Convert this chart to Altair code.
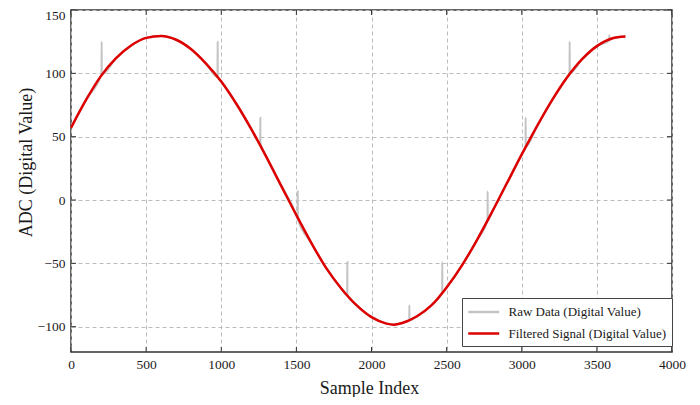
import altair as alt
import pandas as pd

# ---- data ----
filtered_index = [0, 100, 200, 300, 400, 500, 600, 700, 800, 900, 1000, 1100, 1200,
                  1300, 1400, 1500, 1600, 1700, 1800, 1900, 2000, 2100, 2150, 2200,
                  2300, 2400, 2500, 2600, 2700, 2800, 2900, 3000, 3100, 3200, 3300,
                  3400, 3500, 3600, 3690]
filtered_value = [57, 79, 98, 112, 122, 128, 129.4, 126.5, 119, 107.5, 93.5, 76, 56,
                  34, 11, -12, -34, -54, -70, -83, -92.5, -97.6, -98.4, -97.3,
                  -92, -83, -69, -52, -32, -10, 13, 36, 58, 78.5, 96.5,
                  111, 121.5, 127.5, 129]

spike_index = [204, 976, 1260, 1509, 1839, 2252, 2471, 2773, 3026, 3319, 3583]
spike_peak = [125, 125, 65, 7, -49, -83, -49, 7, 65, 125, 130]
spike_base = [99, 97, 45, -15, -75, -95, -73, -16, 42, 100, 126]

x_ticks = [0, 500, 1000, 1500, 2000, 2500, 3000, 3500, 4000]
y_ticks = [-100, -50, 0, 50, 100, 150]

RAW = "Raw Data (Digital Value)"
FILT = "Filtered Signal (Digital Value)"

# ---- tables ----
filt_df = pd.DataFrame({"idx": filtered_index, "val": filtered_value, "series": FILT})

raw_rows = [(i, v) for i, v in zip(filtered_index, filtered_value)]
for i, p, b in zip(spike_index, spike_peak, spike_base):
    raw_rows += [(i - 1, b), (i, p), (i + 1, b)]
raw_rows.sort()
raw_df = pd.DataFrame(raw_rows, columns=["idx", "val"])
raw_df["series"] = RAW

xt_df = pd.DataFrame({"idx": x_ticks})
yt_df = pd.DataFrame({"val": y_ticks})

W, H = 601, 342
FONT = "Liberation Serif"
TXT = "#1a1a1a"

xscale = alt.Scale(domain=[0, 4000], nice=False, zero=False)
yscale = alt.Scale(domain=[-120, 150], nice=False, zero=False)
color = alt.Color(
    "series:N",
    scale=alt.Scale(domain=[RAW, FILT], range=["#c4c4c4", "#dd0000"]),
    legend=alt.Legend(
        title=None, orient="none", legendX=391, legendY=288,
        symbolType="M-1,0H3", symbolSize=240, symbolStrokeWidth=2.5,
        labelFont=FONT, labelFontSize=13, labelColor=TXT, labelOffset=23.5,
        rowPadding=5.5, padding=5, strokeColor="#444", fillColor="white",
        cornerRadius=0,
    ),
)

xaxis = alt.Axis(
    values=x_ticks, title="Sample Index", grid=True, ticks=False, domain=False,
    labelFont=FONT, labelFontSize=13.5, labelColor=TXT, labelPadding=5,
    labelFlush=False,
    titleFont=FONT, titleFontSize=18, titleFontWeight="normal", titleColor=TXT,
    titleX=298, titleY=36, titleBaseline="middle", titleAnchor="middle",
    gridColor="#bcbcbc", gridDash=[4, 3], gridWidth=1, format="d",
)
yaxis = alt.Axis(
    values=y_ticks, title="ADC (Digital Value)", grid=True, ticks=False, domain=False,
    labelFont=FONT, labelFontSize=13.5, labelColor=TXT, labelPadding=6,
    labelFlush=1, labelFlushOffset=2,
    titleFont=FONT, titleFontSize=18, titleFontWeight="normal", titleColor=TXT,
    titleX=-45, titleY=152, titleBaseline="middle", titleAlign="center",
    gridColor="#bcbcbc", gridDash=[4, 3], gridWidth=1,
)

raw_line = alt.Chart(raw_df).mark_line(strokeWidth=2, interpolate="monotone").encode(
    x=alt.X("idx:Q", scale=xscale, axis=xaxis),
    y=alt.Y("val:Q", scale=yscale, axis=yaxis),
    color=color,
)
filt_line = alt.Chart(filt_df).mark_line(strokeWidth=2.5, interpolate="monotone").encode(
    x=alt.X("idx:Q", scale=xscale),
    y=alt.Y("val:Q", scale=yscale),
    color=color,
)

tick_style = dict(color="#333333", strokeWidth=1)
xt_bottom = alt.Chart(xt_df).mark_rule(**tick_style).encode(
    x=alt.X("idx:Q", scale=xscale), y=alt.value(H), y2=alt.value(H - 5))
xt_top = alt.Chart(xt_df).mark_rule(**tick_style).encode(
    x=alt.X("idx:Q", scale=xscale), y=alt.value(0), y2=alt.value(5))
yt_left = alt.Chart(yt_df).mark_rule(**tick_style).encode(
    y=alt.Y("val:Q", scale=yscale), x=alt.value(0), x2=alt.value(5))
yt_right = alt.Chart(yt_df).mark_rule(**tick_style).encode(
    y=alt.Y("val:Q", scale=yscale), x=alt.value(W), x2=alt.value(W - 5))

chart = alt.layer(raw_line, filt_line, xt_bottom, xt_top, yt_left, yt_right).properties(
    width=W, height=H,
    autosize=alt.AutoSizeParams(type="none"),
    padding={"left": 63, "top": 2, "right": 14, "bottom": 45},
    background="white",
).configure_view(stroke="#333333", strokeWidth=1.5)

chart.save("out.html", embed_options={"renderer": "svg", "actions": False})
